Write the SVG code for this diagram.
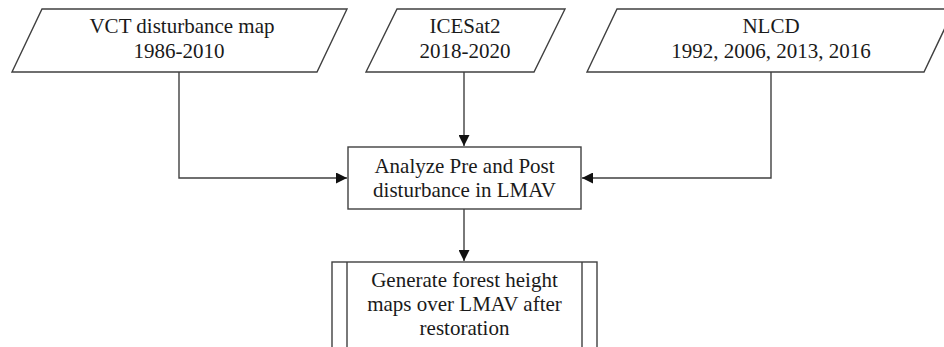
<svg xmlns="http://www.w3.org/2000/svg" width="944" height="347" viewBox="0 0 944 347">
<defs>
<marker id="arr" viewBox="0 0 11 11" refX="11" refY="5.5" markerWidth="11" markerHeight="11" markerUnits="userSpaceOnUse" orient="auto">
<path d="M0,0 L11,5.5 L0,11 Z" fill="#111"/>
</marker>
<style>
.shape{fill:#fff;stroke:#404040;stroke-width:1.4}
.line{fill:none;stroke:#404040;stroke-width:1.4}
text{font-family:"Liberation Serif","Times New Roman",serif;font-size:21px;fill:#1a1a1a;text-anchor:middle}
</style>
</defs>
<rect width="944" height="347" fill="#fff"/>
<g id="connectors">
<path class="line" d="M179,72 V178 H347" marker-end="url(#arr)"/>
<path class="line" d="M464,72 V146" marker-end="url(#arr)"/>
<path class="line" d="M771,72 V178 H582" marker-end="url(#arr)"/>
<path class="line" d="M464,209 V261" marker-end="url(#arr)"/>
</g>
<g id="vct">
<polygon class="shape" points="42,9 347,9 317,72 12,72"/>
<text x="182" y="33">VCT disturbance map</text>
<text x="179" y="58">1986-2010</text>
</g>
<g id="icesat">
<polygon class="shape" points="397,9 565,9 534,72 366,72"/>
<text x="465" y="33">ICESat2</text>
<text x="465" y="58">2018-2020</text>
</g>
<g id="nlcd">
<polygon class="shape" points="617,9 954,9 924,72 587,72"/>
<text x="771" y="33">NLCD</text>
<text x="771" y="58">1992, 2006, 2013, 2016</text>
</g>
<g id="analyze">
<rect class="shape" x="348" y="147" width="233" height="62"/>
<text x="464.5" y="173">Analyze Pre and Post</text>
<text x="464.5" y="197">disturbance in LMAV</text>
</g>
<g id="generate">
<rect class="shape" x="332" y="262" width="265" height="100"/>
<line class="line" x1="347" y1="262" x2="347" y2="362"/>
<line class="line" x1="582" y1="262" x2="582" y2="362"/>
<text x="464.5" y="287">Generate forest height</text>
<text x="464.5" y="311">maps over LMAV after</text>
<text x="464.5" y="335">restoration</text>
</g>
</svg>
